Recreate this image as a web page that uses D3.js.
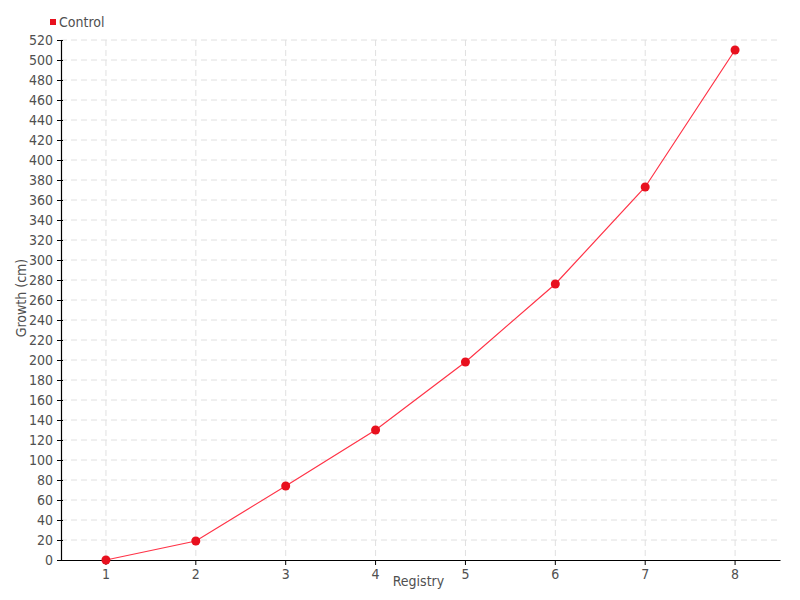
<!DOCTYPE html>
<html>
<head>
<meta charset="utf-8">
<script src="https://cdn.jsdelivr.net/npm/d3@7"></script>
<style>
  body { margin: 0; background: #fff; }
  text { font-family: "DejaVu Sans Condensed", "DejaVu Sans", sans-serif; font-stretch: condensed; }
</style>
</head>
<body>
<div id="chart"></div>
<script>
// chart data
var registry = [1, 2, 3, 4, 5, 6, 7, 8];
var control = [0, 19, 74, 130, 198, 276, 373, 510];
var yTicks = d3.range(0, 521, 20);

var W = 800, H = 600;
var margin = { top: 40, right: 20, bottom: 40, left: 61 };
var width = W - margin.left - margin.right;
var height = H - margin.top - margin.bottom;

var svg = d3.select('#chart').append('svg')
  .attr('width', W).attr('height', H);

var g = svg.append('g')
  .attr('transform', 'translate(' + margin.left + ',' + margin.top + ')');

var x = d3.scaleBand().domain(registry).range([0, width]);
var y = d3.scaleLinear().domain([0, 520]).range([height, 0]);
var cx = function (d) { return x(d) + x.bandwidth() / 2; };

// grid
g.append('g').selectAll('line.h')
  .data(yTicks.filter(function (d) { return d > 0; }))
  .enter().append('line')
  .attr('x1', 0).attr('x2', width)
  .attr('y1', function (d) { return y(d); })
  .attr('y2', function (d) { return y(d); })
  .attr('stroke', '#e0e0e0').attr('stroke-dasharray', '6,4');

g.append('g').selectAll('line.v')
  .data(registry)
  .enter().append('line')
  .attr('x1', cx).attr('x2', cx)
  .attr('y1', 0).attr('y2', height)
  .attr('stroke', '#e0e0e0').attr('stroke-dasharray', '6,4');

// axes
var xAxis = g.append('g')
  .attr('transform', 'translate(0,' + height + ')')
  .call(d3.axisBottom(x).tickSizeInner(5).tickSizeOuter(0).tickPadding(4));

var yAxis = g.append('g')
  .call(d3.axisLeft(y).tickValues(yTicks).tickSizeOuter(0).tickSizeInner(4).tickPadding(4));

[xAxis, yAxis].forEach(function (a) {
  a.select('.domain').attr('stroke', '#000').attr('stroke-width', 1.2);
  a.selectAll('.tick line').attr('stroke', '#000');
  a.selectAll('text').attr('fill', '#505050').style('font-size', '14px');
});
yAxis.selectAll('.tick line').attr('x1', 2);

// axis labels
g.append('text')
  .attr('x', width / 2 - 2).attr('y', height + 26)
  .attr('text-anchor', 'middle').attr('fill', '#505050')
  .style('font-size', '14px').text('Registry');

g.append('text')
  .attr('transform', 'rotate(-90)')
  .attr('x', -258).attr('y', -35)
  .attr('text-anchor', 'middle').attr('fill', '#505050')
  .style('font-size', '14px').text('Growth (cm)');

// line + points
var line = d3.line()
  .x(function (d, i) { return cx(registry[i]); })
  .y(function (d) { return y(d); });

g.append('path')
  .datum(control)
  .attr('d', line)
  .attr('fill', 'none')
  .attr('stroke', '#ff3347')
  .attr('stroke-width', 1.2);

g.selectAll('circle')
  .data(control)
  .enter().append('circle')
  .attr('cx', function (d, i) { return cx(registry[i]); })
  .attr('cy', function (d) { return y(d); })
  .attr('r', 4.5)
  .attr('fill', '#e8101e');

// legend
svg.append('rect')
  .attr('x', 50).attr('y', 19).attr('width', 6).attr('height', 6)
  .attr('fill', '#e8101e');
svg.append('text')
  .attr('x', 59).attr('y', 27)
  .attr('fill', '#505050').style('font-size', '14px')
  .text('Control');
</script>
</body>
</html>
